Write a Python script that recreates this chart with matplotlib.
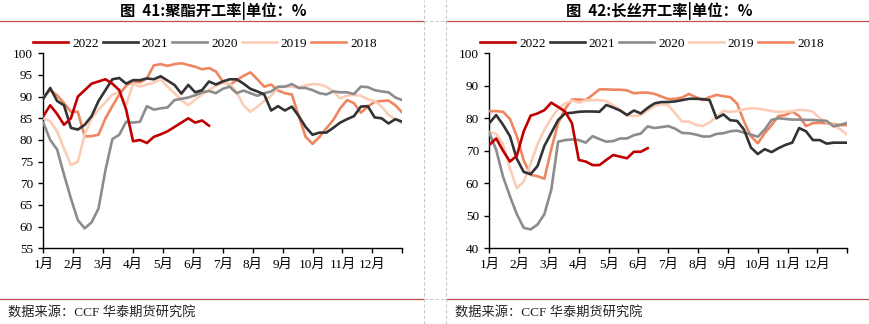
import numpy as np
import matplotlib
matplotlib.use("Agg")
import matplotlib.pyplot as plt
from matplotlib.lines import Line2D

plt.rcParams["font.family"] = ["Liberation Serif", "Noto Sans CJK SC"]

# ---------------- data ----------------
years = ["2022", "2021", "2020", "2019", "2018"]
month_labels = ["1月", "2月", "3月", "4月", "5月", "6月", "7月", "8月", "9月", "10月", "11月", "12月", ""]

# 聚酯开工率 (weekly)
pe_2022 = [85.5, 88, 86, 83.5, 85, 90, 91.5, 93, 93.5, 94, 93, 91.5, 87, 79.7, 80, 79.3,
           80.7, 81.3, 82, 83, 84, 85, 84, 84.5, 83.3]
pe_2021 = [89.5, 92, 89, 88, 82.8, 82.4, 83.5, 85.5, 89, 91.5, 94, 94.3, 93, 93.8, 93.8, 94.2,
           94, 94.7, 93.7, 92.7, 90.7, 92.7, 91, 91.5, 93.5, 92.8, 93.5, 94, 94, 93, 91.8, 91.2,
           90.5, 86.8, 87.8, 86.8, 87.7, 85.5, 83, 81.2, 81.7, 81.7, 82.8, 84, 84.8, 85.5, 87.7,
           87.8, 85.2, 85, 83.8, 84.8, 84.2]
pe_2020 = [84, 80, 77.8, 72, 66.5, 61.5, 59.6, 61, 64.2, 73, 80.2, 81.2, 84.2, 84, 84.2, 87.8,
           87, 87.3, 87.5, 89.2, 89.5, 89.8, 90.3, 91, 91.3, 90.8, 91.8, 92.3, 90.8, 91.4, 90.8,
           90.2, 90.8, 91.2, 92.3, 92.3, 92.9, 92, 92, 91.5, 90.8, 90.5, 91.2, 91, 91, 90.6, 92.3,
           92.2, 91.5, 91.2, 91, 89.8, 89.2]
pe_2019 = [85, 84.3, 82, 78, 74.2, 75, 81.3, 85, 87, 88.7, 90.5, 91, 88, 93, 92.3, 92.8, 93.2,
           94, 92.3, 90.8, 89.2, 88, 89.3, 90.5, 91.5, 92.5, 93.2, 93, 91, 88, 86.5, 87.7, 89,
           90.2, 92.1, 92.3, 92.3, 92.1, 92.6, 92.9, 92.8, 92.3, 91.2, 89.6, 90.2, 90.4, 90.2,
           89.4, 89, 87.7, 85.8, 84.8, 83.8]
pe_2018 = [90, 91.5, 90.3, 88.5, 86.5, 86.5, 80.8, 80.9, 81.2, 85, 87.8, 90.5, 92.5, 93.5, 93.3,
           94.2, 97.2, 97.5, 97.1, 97.5, 97.7, 97.3, 96.9, 96.3, 96.6, 95.8, 93.5, 92.7, 93.8,
           94.8, 95.6, 94, 92.3, 92.8, 91.4, 90.8, 90.5, 85.5, 80.7, 79.1, 80.7, 82.7, 84.6, 87.3,
           89.2, 88.5, 86.3, 87.7, 88.8, 89, 89.1, 88, 86.3]

# 长丝开工率 (weekly)
fy_2022 = [71.8, 73.8, 70, 66.7, 68.5, 76, 80.8, 81.5, 82.5, 84.8, 83.5, 82.1, 78.5, 67.2, 66.7,
           65.6, 65.6, 67.2, 68.7, 68.2, 67.7, 69.7, 69.7, 70.8]
fy_2021 = [78.5, 81, 78, 74.5, 67.5, 63.5, 62.8, 65.3, 71.5, 75.5, 79.5, 81.5, 81.7, 82, 82.1,
           82.1, 82, 84.1, 83.3, 82.4, 81, 82.4, 81.5, 83.2, 84.6, 85, 85, 85.2, 85.6, 86, 86,
           85.9, 85.6, 80, 81.2, 79.4, 79.2, 76.5, 71, 69, 70.5, 69.6, 70.8, 71.8, 72.5, 77, 76,
           73.3, 73.3, 72.2, 72.5, 72.5, 72.5]
fy_2020 = [75.6, 70.3, 62, 56, 50.5, 46.3, 45.8, 47.3, 50.5, 58, 72.8, 73.3, 73.5, 73.3, 72.5,
           74.5, 73.6, 72.8, 73, 73.8, 73.8, 74.8, 75.3, 77.5, 77, 77.3, 77.6, 76.8, 75.5, 75.4,
           75, 74.4, 74.4, 75.2, 75.4, 76, 76.2, 75.6, 75, 74.3, 76.5, 79.5, 80, 79.8, 79.6, 79.6,
           79.5, 79.5, 79.3, 79.2, 77.5, 78, 78.6]
fy_2019 = [75.8, 75.2, 72, 64.5, 58.5, 60.5, 66, 72, 76.5, 80, 83, 84.5, 85.5, 84.8, 85.5, 85.6,
           85.6, 85.3, 84, 82.6, 81, 80.7, 81, 82.4, 83.8, 84.3, 84, 81.5, 79, 79, 78, 77.6, 78.7,
           80.5, 82.3, 82, 82.2, 82.8, 83.1, 83, 82.6, 82.2, 82, 82, 82.2, 82.6, 82.5, 82, 80,
           78.8, 78, 76.6, 74.9]
fy_2018 = [82.2, 82.2, 82, 79.8, 74.5, 67, 62.6, 62.2, 61.4, 70.5, 78.5, 82.8, 85.8, 85.8, 85.6,
           87.2, 88.9, 88.9, 88.8, 88.8, 88.6, 87.7, 87.9, 87.9, 87.5, 86.7, 85.9, 86, 86.4, 87.5,
           86.5, 85.6, 86.5, 87.2, 86.8, 86.5, 84.5, 79, 74.5, 72.3, 75.4, 77.9, 80.7, 81, 82.1,
           80.7, 77.6, 78.5, 78.6, 78.5, 78.2, 77.9, 77.9]

colors = ["#C00000", "#333333", "#8C8C8C", "#FBCDB6", "#EE8660"]

W, H = 870, 324
fig = plt.figure(figsize=(W / 100, H / 100), dpi=100)

serif = ["Liberation Serif", "Noto Sans CJK SC"]
cjk = ["Noto Sans CJK SC", "DejaVu Sans"]


def fx(px):
    return px / W


def fy(py):
    return 1 - py / H


def make_panel(x0, x1, series, ylim, ystep, title, title_cx, legend_cx):
    ax = fig.add_axes([fx(x0), fy(248.3), fx(x1) - fx(x0), fy(53.3) - fy(248.3)])
    n = len(series)
    for i in range(n - 1, -1, -1):
        s = series[i]
        ax.plot(np.arange(len(s)), s, color=colors[i], lw=1.9, zorder=3 + (n - i))
    handles = [Line2D([], [], color=colors[i], lw=1.9) for i in range(n)]
    nweeks = 52
    ax.set_xlim(0, nweeks)
    ax.set_ylim(*ylim)
    ax.set_xticks(np.linspace(0, nweeks, 13))
    ax.set_xticklabels(month_labels)
    ax.set_yticks(np.arange(ylim[0], ylim[1] + 0.1, ystep))
    for sp in ["top", "right"]:
        ax.spines[sp].set_visible(False)
    for sp in ["left", "bottom"]:
        ax.spines[sp].set_linewidth(1.0)
        ax.spines[sp].set_color("black")
    ax.tick_params(axis="both", direction="out", length=3.5, width=1.0, pad=4,
                   labelsize=9.5)
    fig.legend(handles, years, loc="center", bbox_to_anchor=(fx(legend_cx), fy(44)),
               ncol=5, frameon=False, handlelength=2.65, handletextpad=0.3,
               columnspacing=0.3, prop={"family": serif, "size": 9.5})
    fig.text(fx(title_cx), fy(11), title, ha="center", va="center", fontsize=11,
             fontweight="bold", family=cjk)
    return ax


make_panel(43.3, 402.3, [pe_2022, pe_2021, pe_2020, pe_2019, pe_2018], (55, 100), 5,
           "图  41:聚酯开工率|单位：%", 213, 205)
make_panel(489.3, 847.3, [fy_2022, fy_2021, fy_2020, fy_2019, fy_2018], (40, 100), 10,
           "图  42:长丝开工率|单位：%", 659, 652)

# decorations
red = "#C0504D"
for (a, b) in [(0, 424), (446, 870)]:
    for yy in (21, 299):
        fig.add_artist(Line2D([fx(a), fx(b)], [fy(yy), fy(yy)], color=red, lw=0.9))
for xx in (424.3, 446.3):
    fig.add_artist(Line2D([fx(xx), fx(xx)], [0, 1], color="#C8C8C8", lw=0.8,
                          linestyle=(0, (3, 2))))
for yy in (21, 299):
    fig.add_artist(Line2D([fx(424.3), fx(446.3)], [fy(yy), fy(yy)], color="#C8C8C8", lw=0.8,
                          linestyle=(0, (3, 2))))

fig.text(fx(8), fy(313), "数据来源：CCF 华泰期货研究院", ha="left", va="center",
         fontsize=9.5, family=serif, color="#222222")
fig.text(fx(455), fy(313), "数据来源：CCF 华泰期货研究院", ha="left", va="center",
         fontsize=9.5, family=serif, color="#222222")

fig.savefig("out.png", dpi=100, facecolor="white")
